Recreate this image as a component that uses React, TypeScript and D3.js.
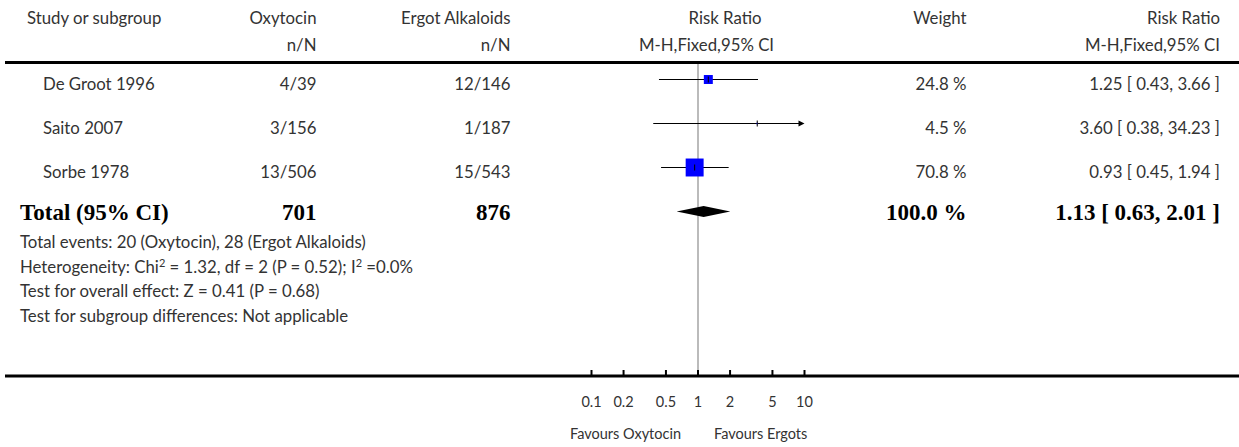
import React from "react";
import * as d3 from "d3";

const studies = ["De Groot 1996", "Saito 2007", "Sorbe 1978"];
const oxyEvents = [4, 3, 13];
const oxyTotal = [39, 156, 506];
const ergEvents = [12, 1, 15];
const ergTotal = [146, 187, 543];
const weights = [24.8, 4.5, 70.8];
const rr = [1.25, 3.6, 0.93];
const rrLow = [0.43, 0.38, 0.45];
const rrHigh = [3.66, 34.23, 1.94];

const totalOxyN = 701;
const totalErgN = 876;
const totalWeight = 100.0;
const totalRR = 1.13;
const totalLow = 0.63;
const totalHigh = 2.01;

const tickValues = [0.1, 0.2, 0.5, 1, 2, 5, 10];
const tickLabels = ["0.1", "0.2", "0.5", "1", "2", "5", "10"];

const footerLines = [
  "Total events: 20 (Oxytocin), 28 (Ergot Alkaloids)",
  "HET",
  "Test for overall effect: Z = 0.41  (P = 0.68)",
  "Test for subgroup differences: Not applicable",
];

const W = 1239;
const H = 447;
const SANS = "Lato, 'Open Sans', sans-serif";
const SERIF = "'Liberation Serif', 'Times New Roman', serif";
const TXT = "#333";

export default function App() {
  const x = d3.scaleLog().domain([0.1, 10]).range([591.5, 804.5]).clamp(true);
  const y = d3
    .scalePoint<string>()
    .domain([...studies, "Total"])
    .range([79.5, 211.5]);
  const size = d3.scalePow().exponent(0.5).domain([2.4, 100]).range([0, 22.1]).clamp(true);
  const fmt = (v: number) => v.toFixed(2);

  const colOxy = 316.5;
  const colErg = 510.5;
  const colW = 966.5;
  const colRR = 1220;
  const fs = 16.8;
  const h1 = 24;
  const h2 = 51;

  return (
    <svg width={W} height={H} style={{ position: "absolute", left: 0, top: 0, background: "#fff" }}>
      <rect width={W} height={H} fill="#fff" />
      {/* headers */}
      <g fontFamily={SANS} fontSize={fs} fill={TXT} style={{ whiteSpace: "pre" }}>
        <text x={27} y={h1}>Study or subgroup</text>
        <text x={colOxy} y={h1} textAnchor="end">Oxytocin</text>
        <text x={colOxy} y={h2} textAnchor="end">n/N</text>
        <text x={colErg} y={h1} textAnchor="end">Ergot Alkaloids</text>
        <text x={colErg} y={h2} textAnchor="end">n/N</text>
        <text x={725} y={h1} textAnchor="middle">Risk Ratio</text>
        <text x={706.5} y={h2} textAnchor="middle">M-H,Fixed,95% CI</text>
        <text x={colW} y={h1} textAnchor="end">Weight</text>
        <text x={colRR} y={h1} textAnchor="end">Risk Ratio</text>
        <text x={colRR} y={h2} textAnchor="end">M-H,Fixed,95% CI</text>
      </g>
      <line x1={5} x2={W} y1={62.5} y2={62.5} stroke="#000" strokeWidth={3} />

      {/* reference line */}
      <line x1={x(1)} x2={x(1)} y1={64} y2={375} stroke="#bbb" strokeWidth={2} />

      {/* study rows */}
      {studies.map((s, i) => {
        const cy = y(s)!;
        const sz = size(weights[i]);
        const x0 = x(rrLow[i]);
        const x1 = x(rrHigh[i]);
        const arrowR = rrHigh[i] > 10;
        const arrowL = rrLow[i] < 0.1;
        return (
          <g key={s}>
            <g fontFamily={SANS} fontSize={fs} fill={TXT} style={{ whiteSpace: "pre" }}>
              <text x={43} y={cy + 10.5}>{s}</text>
              <text x={colOxy} y={cy + 10.5} textAnchor="end">{`${oxyEvents[i]}/${oxyTotal[i]}`}</text>
              <text x={colErg} y={cy + 10.5} textAnchor="end">{`${ergEvents[i]}/${ergTotal[i]}`}</text>
              <text x={colW} y={cy + 10.5} textAnchor="end">{`${weights[i].toFixed(1)} %`}</text>
              <text x={colRR} y={cy + 10.5} textAnchor="end">{`${fmt(rr[i])} [ ${fmt(rrLow[i])}, ${fmt(rrHigh[i])} ]`}</text>
            </g>
            <line x1={x0} x2={arrowR ? x1 - 4 : x1} y1={cy} y2={cy} stroke="#000" strokeWidth={1.2} />
            {arrowR && (
              <path d={`M${x1},${cy} L${x1 - 6},${cy - 3} L${x1 - 6},${cy + 3} Z`} fill="#000" />
            )}
            {arrowL && (
              <path d={`M${x0},${cy} L${x0 + 6},${cy - 3} L${x0 + 6},${cy + 3} Z`} fill="#000" />
            )}
            {sz > 0 && (
              <rect x={x(rr[i]) - sz / 2} y={cy - sz / 2} width={sz} height={sz} fill="#0000ff" />
            )}
            <line x1={x(rr[i])} x2={x(rr[i])} y1={cy - 3} y2={cy + 3} stroke="#000" strokeWidth={1} />
          </g>
        );
      })}

      {/* total row */}
      <g fontFamily={SERIF} fontSize={23} fontWeight="bold" fill="#000" style={{ whiteSpace: "pre" }}>
        <text x={20} y={y("Total")! + 8.5}>Total (95% CI)</text>
        <text x={colOxy} y={y("Total")! + 8.5} textAnchor="end">{totalOxyN}</text>
        <text x={colErg} y={y("Total")! + 8.5} textAnchor="end">{totalErgN}</text>
        <text x={colW} y={y("Total")! + 8.5} textAnchor="end">{`${totalWeight.toFixed(1)} %`}</text>
        <text x={colRR} y={y("Total")! + 8.5} textAnchor="end">{`${fmt(totalRR)} [ ${fmt(totalLow)}, ${fmt(totalHigh)} ]`}</text>
      </g>
      <path
        d={`M${x(totalLow)},${y("Total")} L${x(totalRR)},${y("Total")! - 5.5} L${x(totalHigh)},${y("Total")} L${x(totalRR)},${y("Total")! + 5.5} Z`}
        fill="#000"
      />

      {/* footer */}
      <g fontFamily={SANS} fontSize={fs} fill={TXT} style={{ whiteSpace: "pre" }}>
        {footerLines.map((t, i) =>
          t === "HET" ? (
            <text key={i} x={20} y={248 + i * 24.5}>
              Heterogeneity: Chi<tspan fontSize={11} dy={-6}>2</tspan>
              <tspan dy={6}>{" = 1.32, df = 2 (P = 0.52); I"}</tspan>
              <tspan fontSize={11} dy={-6}>2</tspan>
              <tspan dy={6}>{" =0.0%"}</tspan>
            </text>
          ) : (
            <text key={i} x={20} y={248 + i * 24.5}>{t}</text>
          )
        )}
      </g>

      {/* axis */}
      <line x1={5} x2={W} y1={376} y2={376} stroke="#000" strokeWidth={3} />
      {tickValues.map((v, i) => (
        <g key={v}>
          <line x1={x(v)} x2={x(v)} y1={370} y2={376} stroke="#000" strokeWidth={2} />
          <text x={x(v)} y={407} textAnchor="middle" fontFamily={SANS} fontSize={14.5} fill={TXT}>
            {tickLabels[i]}
          </text>
        </g>
      ))}
      <text x={681} y={439} textAnchor="end" fontFamily={SANS} fontSize={14.5} fill={TXT}>Favours Oxytocin</text>
      <text x={714} y={439} textAnchor="start" fontFamily={SANS} fontSize={14.5} fill={TXT}>Favours Ergots</text>
    </svg>
  );
}
